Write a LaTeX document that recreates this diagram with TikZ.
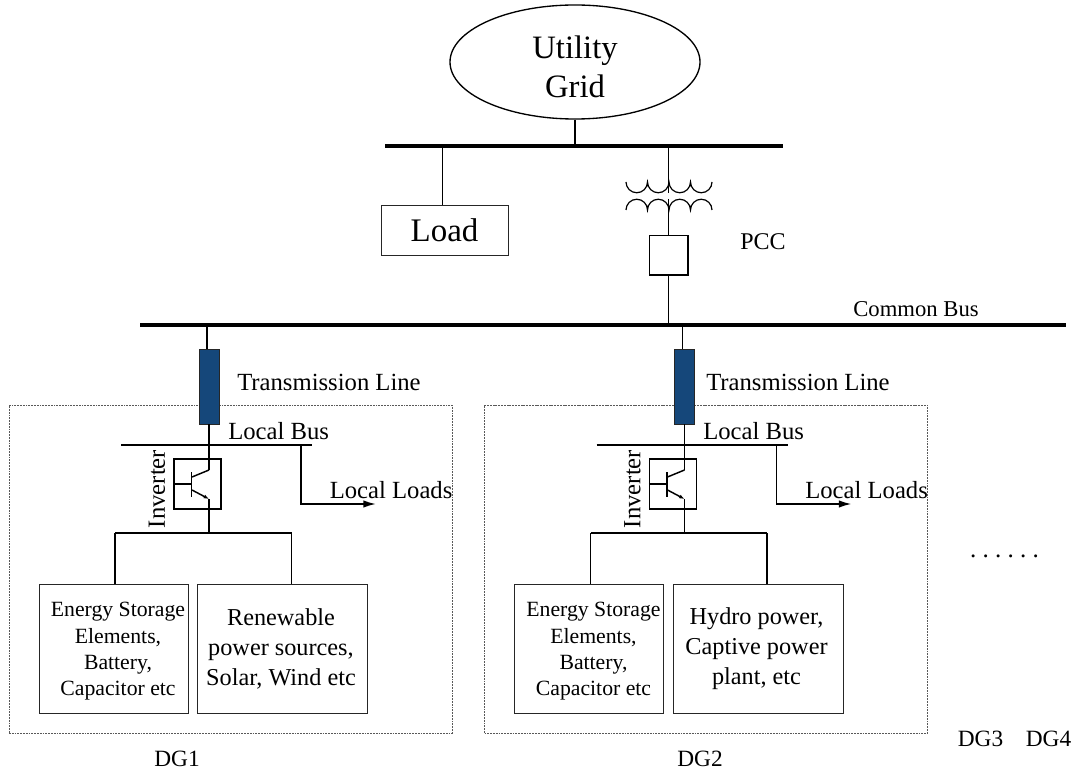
\documentclass[tikz,border=0pt]{standalone}
\usepackage{fontspec}
\setmainfont{Liberation Serif}
\usetikzlibrary{arrows.meta,shapes.geometric}
\tikzset{
  wire/.style={line width=1.4pt,black},
  thin wire/.style={line width=1.1pt,black},
  busbar/.style={line width=2.3pt,black},
  box/.style={draw=black!85,line width=0.7pt,inner sep=0pt,align=center},
  frame/.style={draw=black!65,line width=0.65pt,dash pattern=on 1.4pt off 0.7pt},
  tline/.style={draw=black!85,line width=0.6pt,fill={rgb,255:red,21;green,71;blue,122}},
  lbl/.style={inner sep=0pt,align=center},
  coil/.style={line width=0.9pt},
  small/.style={font=\fontsize{18.5}{22}\selectfont},
  dgt/.style={font=\fontsize{17.5}{21}\selectfont}
}
\newcommand{\dgunit}[5]{%
\begin{scope}[xshift=#1*0.75pt]
  \node[frame,minimum width=332.25pt,minimum height=246pt] (frame#5) at (230.5,569) {};
  \node[tline,minimum width=15pt,minimum height=56.25pt,inner sep=0pt] (tl#5) at (209,386.5) {};
  \coordinate (cb#5) at (207,325);
  \coordinate (lb#5) at (209,445);
  \draw[wire] (cb#5) -- (cb#5 |- tl#5.north);
  \draw[wire] (tl#5.south) -- (lb#5);
  \coordinate (lbl#5) at (121,445);
  \coordinate (lbr#5) at (312,445);
  \draw[busbar,line width=1.9pt] (lbl#5) -- (lbr#5);
  \node[box,draw=black,line width=1pt,minimum width=35.25pt,minimum height=37.5pt] (inv#5) at (197.5,484) {};
  \coordinate (c#5) at (209,470);
  \draw[wire] (lb#5) -- (c#5);
  \draw[thin wire] (c#5) -- (192,477);
  \draw[thin wire] (191.7,472) -- (191.7,497);
  \draw[thin wire] (inv#5.west) -- (191.7,484);
  \draw[thin wire,-{Latex[length=4pt,width=3pt]}] (192,490) -- (209,499);
  \coordinate (h#5) at (209,533);
  \draw[wire] (209,499) -- (h#5);
  \coordinate (hl#5) at (115,533);
  \coordinate (hr#5) at (291.5,533);
  \draw[wire] (hl#5) -- (hr#5);
  \node[box,minimum width=111.75pt,minimum height=96.75pt] (es#5) at (113.5,648.5) {};
  \node[lbl,font=\fontsize{16.3}{19.8}\selectfont] (est#5) at (118,651.5) {Energy Storage\\Elements,\\Battery,\\Capacitor etc};
  \node[box,minimum width=127.6pt,minimum height=96.75pt] (rs#5) at (282.6,648.5) {};
  \node[lbl,font=\fontsize{18.2}{22.5}\selectfont] (rst#5) at (281,648.5) {#2};
  \draw[wire] (hl#5) -- (hl#5 |- es#5.north);
  \draw[wire] (hr#5) -- (hr#5 |- rs#5.north);
  \coordinate (ll#5) at (301,445);
  \coordinate (lc#5) at (301,504);
  \coordinate (la#5) at (376,504);
  \draw[wire,line width=1.25pt,-{Latex[length=9.4pt,width=5.5pt]}] (ll#5) -- (lc#5) -- (la#5);
  \node[lbl,anchor=west,small] (llt#5) at (329.5,490) {Local Loads};
  \node[lbl,rotate=90,small] (it#5) at (157,489) {Inverter};
  \node[lbl,dgt] (dg#5) at (#3,#4) {DG#5};
\end{scope}}
\begin{document}
\begin{tikzpicture}[x=0.75pt,y=-0.75pt]
\useasboundingbox (0,0) rectangle (1078,773);
\node[draw,ellipse,line width=1pt,minimum width=187.5pt,minimum height=85.5pt,inner sep=0pt] (grid) at (575,62) {};
\node[lbl,font=\fontsize{24.5}{29.5}\selectfont] (gridt) at (575,67) {Utility\\Grid};
\coordinate (gb) at (575,146);
\coordinate (busl) at (385,146);
\coordinate (busr) at (783,146);
\draw[busbar] (busl) -- (busr);
\draw[wire,line width=1.7pt] (grid.south) -- (gb);
\node[box,minimum width=95.25pt,minimum height=37.5pt,font=\fontsize{24.7}{29}\selectfont] (load) at (444.5,230.7) {Load};
\coordinate (lt) at (442.5,146);
\draw[wire] (lt) -- (lt |- load.north);
\coordinate (t1) at (668.5,146);
\coordinate (t2) at (668.5,193);
\coordinate (t3) at (668.5,199);
\draw[wire] (t1) -- (t2);
\draw[coil] (626,182) arc[start angle=180,end angle=0,radius=10.75] arc[start angle=180,end angle=0,radius=10.75] arc[start angle=180,end angle=0,radius=10.75] arc[start angle=180,end angle=0,radius=10.75];
\draw[coil] (626,210) arc[start angle=180,end angle=360,radius=10.75] arc[start angle=180,end angle=360,radius=10.75] arc[start angle=180,end angle=360,radius=10.75] arc[start angle=180,end angle=360,radius=10.75];
\node[box,draw=black,minimum width=28.8pt,minimum height=29.8pt,line width=1.2pt] (pcc) at (668.5,255.2) {};
\draw[wire] (t3) -- (pcc.north);
\coordinate (cbl) at (140,325);
\coordinate (cbr) at (1066,325);
\coordinate (cbp) at (668.5,325);
\draw[wire] (pcc.south) -- (cbp);
\draw[busbar,line width=2.7pt] (cbl) -- (cbr);
\node[lbl,font=\fontsize{18}{22}\selectfont] (pcct) at (763,242) {PCC};
\node[lbl,font=\fontsize{17}{20}\selectfont] (cbt) at (916,309) {Common Bus};
\dgunit{0}{Renewable\\power sources,\\Solar, Wind etc}{177}{759}{1}
\dgunit{475.5}{Hydro power,\\Captive power\\plant, etc}{224.5}{759}{2}
\node[lbl,anchor=west,small] (tt1) at (237,382) {Transmission Line};
\node[lbl,anchor=west,small] (lbt1) at (228,431) {Local Bus};
\node[lbl,anchor=west,small] (tt2) at (706,382) {Transmission Line};
\node[lbl,anchor=west,small] (lbt2) at (703,431) {Local Bus};
\node[lbl,dgt] (dg3) at (980.5,739) {DG3};
\node[lbl,dgt] (dg4) at (1048.5,739) {DG4};
\node[lbl,anchor=base,font=\fontsize{18.75}{22}\selectfont] (dots) at (1004.5,557.5) {\frenchspacing . . . . . .};
\end{tikzpicture}
\end{document}
